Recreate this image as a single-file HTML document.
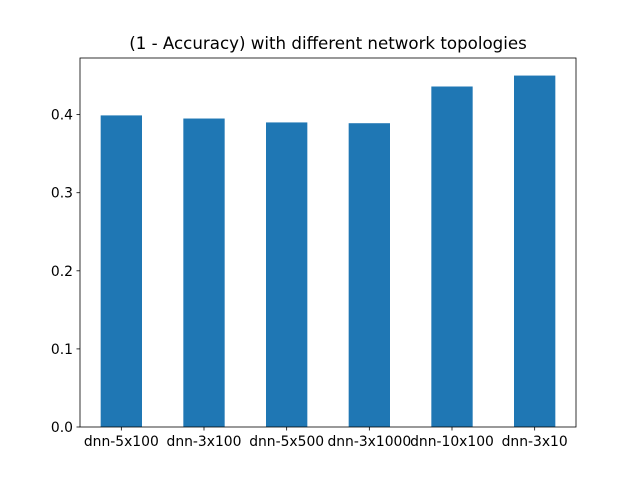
<!DOCTYPE html>
<html><head><meta charset="utf-8"><style>
body{margin:0;background:#fff}
svg text{font-family:"DejaVu Sans","Liberation Sans",sans-serif;fill:#000}
</style></head><body>
<svg id="chart" width="640" height="480" xmlns="http://www.w3.org/2000/svg">
<rect width="640" height="480" fill="#fff"/>
<text x="328" y="49" text-anchor="middle" font-size="16.67">(1 - Accuracy) with different network topologies</text>
<g id="bars"></g><g id="axes"></g>
</svg>
<script>
const categories=["dnn-5x100","dnn-3x100","dnn-5x500","dnn-3x1000","dnn-10x100","dnn-3x10"];
const values=[0.399,0.395,0.390,0.389,0.436,0.450];
const yTicks=[0.0,0.1,0.2,0.3,0.4];
const yTickLabels=["0.0","0.1","0.2","0.3","0.4"];
const L=80,R=576,T=58,B=427,yMax=0.4725;
const ns="http://www.w3.org/2000/svg";
const y=v=>B-(v/yMax)*(B-T);
const step=(R-L)/categories.length;
const x=i=>L+step*(i+0.5);
const bars=document.getElementById('bars'),axes=document.getElementById('axes');
function mk(t,a,p){const e=document.createElementNS(ns,t);for(const k in a)e.setAttribute(k,a[k]);p.appendChild(e);return e;}
values.forEach((v,i)=>{
 const r=mk('rect',{x:x(i)-step*0.25,y:y(v),width:step*0.5,height:B-y(v),fill:'#1f77b4'},bars);
 
 
 mk('line',{x1:x(i),x2:x(i),y1:B,y2:B+3.5,stroke:'#000','stroke-width':0.8},axes);
 const t=mk('text',{x:x(i),y:B+19,'text-anchor':'middle','font-size':'13.89'},axes);
 t.textContent=categories[i];
 
 
});
yTicks.forEach((v,i)=>{
 mk('line',{x1:L-3.5,x2:L,y1:y(v),y2:y(v),stroke:'#000','stroke-width':0.8},axes);
 const t=mk('text',{x:L-7,y:y(v)+5,'text-anchor':'end','font-size':'13.89'},axes);
 t.textContent=yTickLabels[i];
 
 
});
const f=mk('rect',{x:L,y:T,width:R-L,height:B-T,fill:'none',stroke:'#000','stroke-width':0.8},axes);


</script>
</body></html>
